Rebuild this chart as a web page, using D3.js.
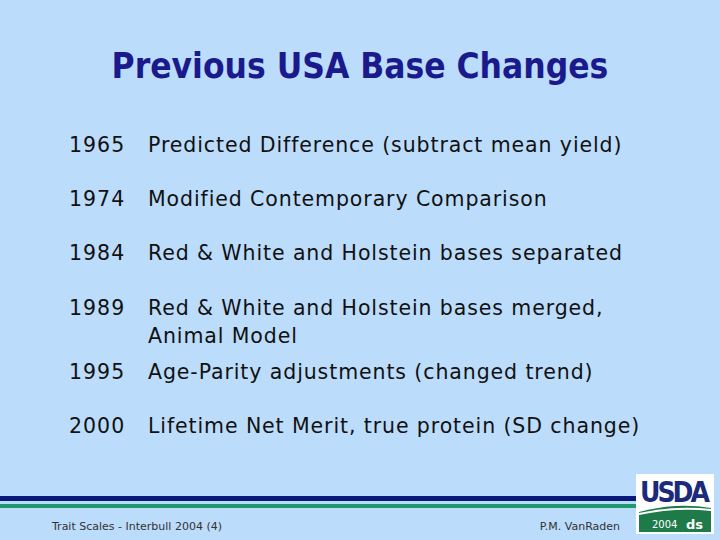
<!DOCTYPE html>
<html><head><meta charset="utf-8">
<script src="https://cdn.jsdelivr.net/npm/d3@7"></script>
<style>body{margin:0;background:#bcdcfb}</style>
</head><body>
<script>
const years = ['1965', '1974', '1984', '1989', '', '1995', '2000'];
const changes = [
    'Predicted Difference (subtract mean yield)',
    'Modified Contemporary Comparison',
    'Red & White and Holstein bases separated',
    'Red & White and Holstein bases merged,',
    'Animal Model',
    'Age-Parity adjustments (changed trend)',
    'Lifetime Net Merit, true protein (SD change)'
];
const rowY = [145, 199, 253, 308, 336, 372, 426];

const svg = d3.select('body').append('svg').attr('width', 720).attr('height', 540);
svg.append('rect').attr('width', 720).attr('height', 540).attr('fill', '#bcdcfb');

const font = 'DejaVu Sans';
svg.append('text').attr('x', 360).attr('y', 78).attr('text-anchor', 'middle')
    .attr('font-family', 'DejaVu Sans Condensed').attr('font-weight', 'bold').attr('font-size', 35)
    .attr('fill', '#1b1a8c').text('Previous USA Base Changes');

const rows = svg.selectAll('g.row').data(d3.range(years.length)).join('g')
    .attr('transform', i => `translate(0,${rowY[i]})`);
rows.append('text').attr('x', 69).attr('dy', '0.35em').attr('font-family', font)
    .attr('font-size', 20.5).attr('letter-spacing', 1).attr('fill', '#111').text(i => years[i]);
rows.append('text').attr('x', 148).attr('dy', '0.35em').attr('font-family', font)
    .attr('font-size', 20.5).attr('letter-spacing', 0.9).attr('fill', '#111').text(i => changes[i]);

// footer rules
svg.append('rect').attr('x', 0).attr('y', 496).attr('width', 636).attr('height', 5).attr('fill', '#0a1a7a');
svg.append('rect').attr('x', 0).attr('y', 504).attr('width', 636).attr('height', 4).attr('fill', '#1f9a6e');

svg.append('text').attr('x', 52).attr('y', 530).attr('font-family', font).attr('font-size', 11)
    .attr('fill', '#333').text('Trait Scales - Interbull 2004 (4)');
svg.append('text').attr('x', 620).attr('y', 530).attr('text-anchor', 'end').attr('font-family', font)
    .attr('font-size', 11).attr('fill', '#333').text('P.M. VanRaden');

// logo
const logo = svg.append('g').attr('transform', 'translate(636,474)');
logo.append('rect').attr('width', 78).attr('height', 60).attr('fill', '#fff');
logo.append('text').attr('x', 39).attr('y', 28).attr('text-anchor', 'middle').attr('font-family', 'DejaVu Sans Condensed')
    .attr('font-weight', 'bold').attr('font-size', 28).attr('fill', '#1b2a7a').attr('textLength', 70).text('USDA');
logo.append('path').attr('d', 'M3,58 L3,38 Q40,28 75,34 L75,58 Z').attr('fill', '#1f7a4a');
logo.append('path').attr('d', 'M3,40 Q40,32 75,36').attr('stroke', '#fff').attr('stroke-width', 2).attr('fill', 'none');
logo.append('text').attr('x', 16).attr('y', 54).attr('font-family', font).attr('font-size', 10).attr('fill', '#fff').text('2004');
logo.append('text').attr('x', 50).attr('y', 55).attr('font-family', font).attr('font-weight', 'bold').attr('font-size', 13).attr('fill', '#fff').text('ds');
</script>
</body></html>
